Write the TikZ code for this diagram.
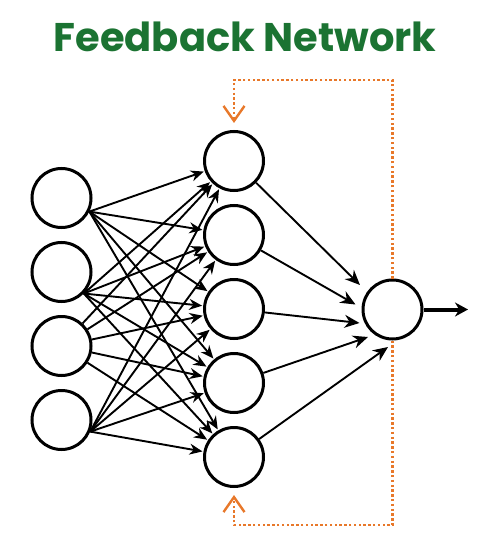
\documentclass[tikz,border=0pt]{standalone}
\usepackage{fontspec}
\newfontfamily\titlefont{Poppins}
\usetikzlibrary{arrows.meta,calc}
\definecolor{titlegreen}{HTML}{1B7332}
\definecolor{fborange}{HTML}{E8782A}
\begin{document}
\begin{tikzpicture}[x=1pt,y=-1pt,
  neuron/.style={circle,draw=black,line width=3pt,fill=white,minimum size=59pt,inner sep=0pt},
  conn/.style={line width=1.9pt,-{Stealth[length=13pt,width=11pt]},shorten >=1pt},
  outconn/.style={line width=1.9pt,-{Stealth[length=15pt,width=13pt]}},
  fb/.style={draw=fborange,line width=2.4pt,dash pattern=on 2.4pt off 2.4pt,
    -{Straight Barb[length=15pt,width=21pt,line width=2.4pt]},shorten >=7pt},
  outarrow/.style={line width=4pt,-{Stealth[length=13pt,width=14pt]}}
]
\useasboundingbox (0,0) rectangle (491,548);
\node[font=\titlefont\bfseries\fontsize{40}{40}\selectfont,text=titlegreen] (title) at (245,37) {Feedback Network};
% input layer
\foreach \i/\y in {1/198,2/272,3/346,4/420}
  \node[neuron] (i\i) at (61.5,\y) {};
% hidden layer
\foreach \j/\y in {1/161,2/235,3/309,4/383,5/457}
  \node[neuron] (h\j) at (234,\y) {};
% output
\node[neuron] (o) at (392.5,309.5) {};
\coordinate (out) at (468,309.5);
% feedback corners
\coordinate (tr) at (392.5,80);
\coordinate (br) at (392.5,525);
\draw[fb] (o.north) -- (tr) -| (h1);
\draw[fb] (o.south) -- (br) -| (h5);
% input -> hidden
\foreach \j in {1,...,5}{
  \draw[conn] (i1.-26) -- (h\j);
  \draw[conn] (i2.-44) -- (h\j);
  \draw[conn] (i3) -- (h\j);
  \draw[conn] (i4.-22) -- (h\j);
}
% hidden -> output tips
\coordinate (t1) at ($(o)+(-32.5,-24.5)$);
\coordinate (t2) at ($(o)+(-37,-5)$);
\coordinate (t3) at ($(o)+(-33,13.5)$);
\coordinate (t4) at ($(o)+(-24.5,27.5)$);
\coordinate (t5) at ($(o)+(-4.5,37.5)$);
\foreach \j in {1,...,5}
  \draw[outconn] (h\j) -- (t\j);
\draw[outarrow] (o) -- (out);
\end{tikzpicture}
\end{document}
